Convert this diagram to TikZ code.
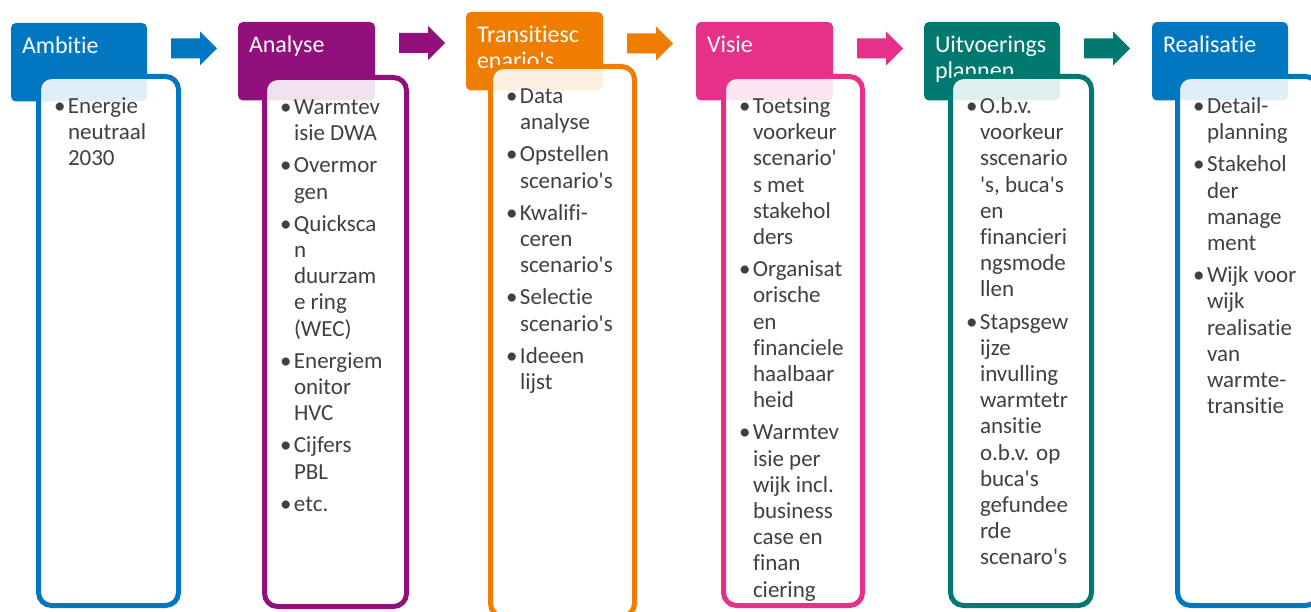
\documentclass[tikz,border=0pt]{standalone}
\usepackage{fontspec}
\setmainfont{Carlito}[Ligatures={TeXOff,NoCommon}]
\usetikzlibrary{calc}

\definecolor{cblue}{HTML}{0077C0}
\definecolor{cpurple}{HTML}{92107C}
\definecolor{corange}{HTML}{EF7D00}
\definecolor{cpink}{HTML}{E7308A}
\definecolor{cteal}{HTML}{007A70}
\definecolor{txtgray}{HTML}{404040}

% bullet hanging to the left of the text column
\newcommand{\bul}{\llap{\textbullet\hspace{2.5pt}}}
% strut fixing the height of the first line above its baseline
\newcommand{\topstrut}{\rule{0pt}{20pt}}

\tikzset{
  x=1pt, y=-1pt,
  hdr/.style={rectangle, rounded corners=5pt, minimum width=136pt,
    minimum height=78.5pt, inner sep=0pt, outer sep=0pt, anchor=north west},
  hdrtxt/.style={anchor=north west, inner sep=0pt, outer sep=0pt, text=white,
    font=\fontsize{24}{26}\selectfont, align=left},
  stagebody/.style={rectangle, rounded corners=13pt, line width=5pt,
    fill=white, fill opacity=0.88, minimum height=529pt,
    inner sep=0pt, outer sep=0pt, anchor=north west},
  bodytxt/.style={anchor=north west, inner sep=0pt, outer sep=0pt,
    text=txtgray, font=\fontsize{23}{26.2}\selectfont, align=left},
  barrow/.pic={\fill (0,-10) -- (29,-10) -- (29,-17) -- (46,0)
    -- (29,17) -- (29,10) -- (0,10) -- cycle;}
}

\begin{document}
\begin{tikzpicture}
\useasboundingbox (0,0) rectangle (1311,612);
\clip (0,0) rectangle (1311,612);

% ---- Ambitie
\node[hdr, fill=cblue] (h1) at (11,23) {};
\node[hdrtxt] (h1t) at ($(h1.north west)+(11,10.5)$) {\topstrut Ambitie};
\node[stagebody, draw=cblue, minimum width=140pt] (b1) at (38.5,76.5) {};
\node[bodytxt] (b1t) at ($(b1.north west)+(29.5,17)$)
  {\topstrut\bul Energie\\ neutraal\\ 2030};

% ---- Analyse
\node[hdr, fill=cpurple, minimum width=137pt] (h2) at (238,22) {};
\node[hdrtxt] (h2t) at ($(h2.north west)+(11,10.5)$) {\topstrut Analyse};
\node[stagebody, draw=cpurple, minimum width=142pt] (b2) at (264.5,77.5) {};
\node[bodytxt] (b2t) at ($(b2.north west)+(29.5,17)$)
  {\topstrut\bul Warmtev\\ isie DWA\\[6pt]
   \bul Overmor\\ gen\\[6pt]
   \bul Quicksca\\ n\\ duurzam\\ e ring\\ (WEC)\\[6pt]
   \bul Energiem\\ onitor\\ HVC\\[6pt]
   \bul Cijfers\\ PBL\\[6pt]
   \bul etc.};

% ---- Transitiescenario's
\node[hdr, fill=corange, minimum width=137pt] (h3) at (466,12) {};
\node[hdrtxt] (h3t) at ($(h3.north west)+(11,10.5)$) {\topstrut Transitiesc\\ enario's};
\node[stagebody, draw=corange, minimum width=144pt, minimum height=550pt] (b3) at (490.5,66.5) {};
\node[bodytxt] (b3t) at ($(b3.north west)+(29.5,17)$)
  {\topstrut\bul Data\\ analyse\\[6pt]
   \bul Opstellen\\ scenario's\\[6pt]
   \bul Kwalifi-\\ ceren\\ scenario's\\[6pt]
   \bul Selectie\\ scenario's\\[6pt]
   \bul Ideeen\\ lijst};

% ---- Visie
\node[hdr, fill=cpink, minimum width=137pt] (h4) at (696,22) {};
\node[hdrtxt] (h4t) at ($(h4.north west)+(11,10.5)$) {\topstrut Visie};
\node[stagebody, draw=cpink, minimum width=139pt] (b4) at (723.5,76.5) {};
\node[bodytxt] (b4t) at ($(b4.north west)+(29.5,17)$)
  {\topstrut\bul Toetsing\\ voorkeur\\ scenario'\\ s met\\ stakehol\\ ders\\[6pt]
   \bul Organisat\\ orische\\ en\\ financiele\\ haalbaar\\ heid\\[6pt]
   \bul Warmtev\\ isie per\\ wijk incl.\\ business\\ case en\\ finan\\ ciering};

% ---- Uitvoeringsplannen
\node[hdr, fill=cteal] (h5) at (924,22) {};
\node[hdrtxt] (h5t) at ($(h5.north west)+(11,10.5)$) {\topstrut Uitvoerings\\ plannen};
\node[stagebody, draw=cteal, minimum width=141pt] (b5) at (950.5,76.5) {};
\node[bodytxt] (b5t) at ($(b5.north west)+(29.5,17)$)
  {\topstrut\bul O.b.v.\\ voorkeur\\ sscenario\\ 's, buca's\\ en\\ financieri\\ ngsmode\\ llen\\[6pt]
   \bul Stapsgew\\ ijze\\ invulling\\ warmtetr\\ ansitie\\ o.b.v. op\\ buca's\\ gefundee\\ rde\\ scenaro's};

% ---- Realisatie
\node[hdr, fill=cblue] (h6) at (1152,22) {};
\node[hdrtxt] (h6t) at ($(h6.north west)+(11,10.5)$) {\topstrut Realisatie};
\node[stagebody, draw=cblue, minimum width=141pt] (b6) at (1177.5,76.5) {};
\node[bodytxt] (b6t) at ($(b6.north west)+(29.5,17)$)
  {\topstrut\bul Detail-\\ planning\\[6pt]
   \bul Stakehol\\ der\\ manage\\ ment\\[6pt]
   \bul Wijk voor\\ wijk\\ realisatie\\ van\\ warmte-\\ transitie};

% ---- block arrows between the stage headers
\pic[fill=cblue]   at ($(h1.north east)+(24,25.5)$) {barrow};
\pic[fill=cpurple] at ($(h2.north east)+(24,21)$)   {barrow};
\pic[fill=corange] at ($(h3.north east)+(24,31.5)$) {barrow};
\pic[fill=cpink]   at ($(h4.north east)+(24,26.5)$) {barrow};
\pic[fill=cteal]   at ($(h5.north east)+(24,26.5)$) {barrow};
\end{tikzpicture}
\end{document}
